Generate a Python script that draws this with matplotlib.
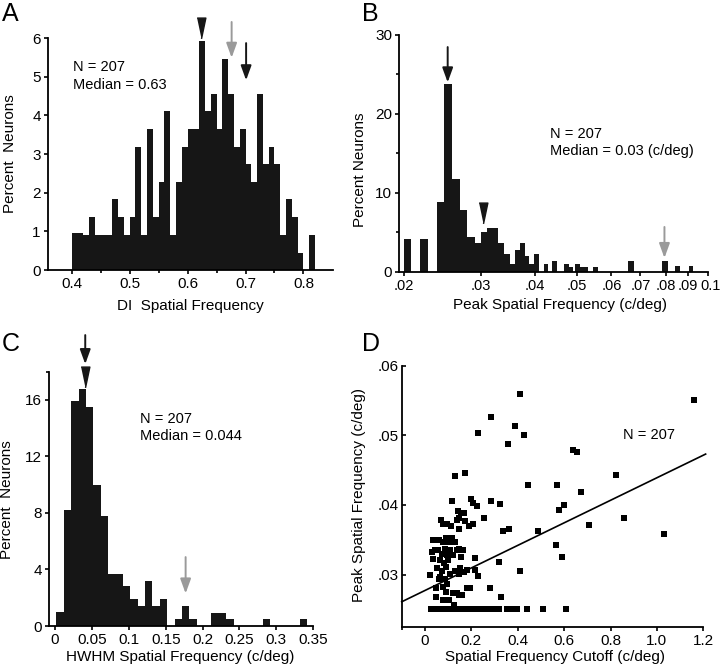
import matplotlib.pyplot as plt
import numpy as np
from matplotlib.ticker import FixedLocator, NullLocator
from matplotlib.transforms import offset_copy

plt.rcParams['font.family'] = ['Liberation Sans', 'DejaVu Sans']

# ---- panel A: DI spatial frequency, 0.01 bins from 0.40
a_bin_start = 0.40
a_bin_width = 0.01
a_pct = [0.95, 0.96, 0.9, 1.37, 0.9, 0.9, 0.9, 1.83, 1.37, 0.9, 1.37, 3.19, 0.9, 3.65,
         1.37, 2.28, 4.1, 0.9, 2.28, 3.19, 3.65, 3.65, 5.93, 4.1, 4.55, 3.65, 5.46, 4.55,
         3.19, 3.65, 2.73, 2.28, 4.55, 2.73, 3.19, 2.73, 0.9, 1.83, 1.37, 0.45, 0, 0.9]
a_median = 0.623
a_gray = 0.676
a_black = 0.701

# ---- panel B: peak spatial frequency (log axis), bar edges in c/deg
b_lo = [.02000, .02179, .02379, .02477, .02578, .02689, .02789, .02909, .03000, .03105,
        .03202, .03296, .03394, .03500, .03591, .03698, .03794, .03880, .03980, .04194,
        .04383, .04677, .04785, .04956, .05088, .05187, .05456, .06554, .07846, .08413, .09053]
b_hi = [.02074, .02269, .02477, .02578, .02689, .02789, .02909, .03000, .03105, .03202,
        .03296, .03394, .03500, .03591, .03698, .03794, .03880, .03980, .04085, .04291,
        .04500, .04785, .04886, .05088, .05187, .05296, .05601, .06751, .08082, .08621, .09261]
b_pct = [4.1, 4.1, 8.8, 23.8, 11.8, 7.8, 4.4, 3.7, 5.0, 5.5, 5.5, 3.7, 2.3, 1.0, 2.8, 3.7,
         2.0, 1.0, 2.3, 1.0, 1.4, 1.0, 0.6, 1.0, 0.6, 0.6, 0.6, 1.3, 1.3, 0.7, 0.7]
b_ticks = [.02, .03, .04, .05, .06, .07, .08, .09, .1]
b_ticklabels = ['.02', '.03', '.04', '.05', '.06', '.07', '.08', '.09', '']
b_black = 0.0252
b_median = 0.0304
b_gray = 0.0795

# ---- panel C: HWHM, 0.01 bins from 0.002
c_bin_start = 0.002
c_bin_width = 0.01
c_pct = [1.0, 8.2, 15.9, 16.8, 15.5, 10.0, 7.8, 3.7, 3.7, 2.8, 1.9, 1.4, 3.2, 1.4, 1.9, 0,
         0.5, 1.4, 0.5, 0, 0, 0.95, 0.95, 0.5, 0, 0, 0, 0, 0.5, 0, 0, 0, 0, 0.5]
c_median = 0.041
c_gray = 0.177

# ---- panel D: cutoff vs peak
d_cutoff = [1.161, 0.41, 0.285, 0.39, 0.427, 0.229, 0.358, 0.637, 0.657, 0.128, 0.174, 0.825,
            0.444, 0.569, 0.674, 0.116, 0.20, 0.207, 0.226, 0.285, 0.323, 0.599, 0.579, 0.254,
            0.144, 0.157, 0.168, 0.174, 0.145, 0.137, 0.069, 0.079, 0.096, 0.111, 0.191, 0.206,
            0.147, 0.362, 0.338, 0.489, 0.706, 0.859, 1.03, 0.565, 0.592, 0.318, 0.412, 0.326,
            0.282, 0.033, 0.115, 0.128, 0.214, 0.23, 0.216, 0.194, 0.18, 0.148, 0.137, 0.119,
            0.105, 0.079, 0.126, 0.047, 0.024, 0.033, 0.029, 0.057, 0.072, 0.086, 0.096, 0.108,
            0.065, 0.082, 0.101, 0.122, 0.137, 0.05, 0.072, 0.091, 0.108, 0.129, 0.151, 0.168,
            0.183, 0.065, 0.086, 0.096, 0.076, 0.093, 0.059, 0.043, 0.093, 0.105, 0.076, 0.062,
            0.145, 0.165, 0.154, 0.148, 0.161, 0.047,
            0.025, 0.05, 0.07, 0.09, 0.11, 0.13, 0.15, 0.17, 0.19, 0.21, 0.23, 0.25, 0.27,
            0.29, 0.31, 0.32, 0.355, 0.375, 0.395, 0.44, 0.51, 0.61]
d_peak = [.0551, .0559, .0527, .0514, .0501, .0504, .0488, .0479, .0476, .0441, .0446, .0443,
          .0428, .0428, .0418, .0405, .0408, .0403, .0398, .0406, .0402, .0400, .0393, .0381,
          .0391, .0388, .0388, .0377, .0381, .0378, .0378, .0373, .0373, .0370, .0370, .0372,
          .0365, .0365, .0362, .0362, .0371, .0381, .0358, .0343, .0325, .0318, .0305, .0267,
          .0280, .0349, .0352, .0346, .0323, .0298, .0306, .0280, .0281, .0270, .0274, .0273,
          .0263, .0264, .0256, .0281, .0300, .0322, .0332, .0335, .0330, .0337, .0328, .0335,
          .0321, .0317, .0321, .0328, .0335, .0309, .0305, .0311, .0301, .0305, .0309, .0304,
          .0306, .0297, .0294, .0287, .0282, .0275, .0294, .0335, .0352, .0346, .0346, .0349,
          .0337, .0335, .0325, .0301, .0271, .0268,
          .025, .025, .025, .025, .025, .025, .025, .025, .025, .025, .025, .025, .025,
          .025, .025, .025, .025, .025, .025, .025, .025, .025]
d_fit_intercept = 0.0277
d_fit_slope = 0.0162

BAR = '#161616'
GRAY = '#9a9a9a'
TICK_FS = 11
LABEL_FS = 11
NOTE_FS = 10.5

W, H = 720, 670


def box(x0, x1, y_top, y_bot):
    # pixel box -> figure fraction
    return [x0 / W, 1 - y_bot / H, (x1 - x0) / W, (y_bot - y_top) / H]


def style(ax):
    for s in ['top', 'right']:
        ax.spines[s].set_visible(False)
    for s in ['left', 'bottom']:
        ax.spines[s].set_linewidth(1.3)
    ax.tick_params(which='both', direction='out', width=1.2, labelsize=TICK_FS, pad=2)
    ax.tick_params(which='major', length=3.2)
    ax.tick_params(which='minor', length=2.5)


def arrow(ax, x, y0, y1, color):
    ax.annotate('', xy=(x, y1), xytext=(x, y0), xycoords=ax.get_xaxis_transform(),
                arrowprops=dict(arrowstyle='-|>,head_length=0.55,head_width=0.2',
                                color=color, lw=1.4, shrinkA=0, shrinkB=0,
                                mutation_scale=16),
                annotation_clip=False)


TRI = [(-0.42, 1), (0.42, 1), (0, -1)]


def triangle(ax, x, y):
    ax.plot([x], [y], marker=TRI, markersize=15, color=BAR, linestyle='none',
            transform=ax.get_xaxis_transform(), clip_on=False)


fig = plt.figure(figsize=(7.2, 6.7), dpi=100)

# ================= A
axA = fig.add_axes(box(48, 333, 38, 270))
style(axA)
a_left = a_bin_start + a_bin_width * np.arange(len(a_pct))
axA.bar(a_left, a_pct, width=a_bin_width, align='edge', color=BAR, linewidth=0)
axA.set_xlim(0.359, 0.851)
axA.set_ylim(0, 6)
axA.set_xticks([0.4, 0.5, 0.6, 0.7, 0.8])
axA.set_xticklabels(['0.4', '0.5', '0.6', '0.7', '0.8'])
axA.xaxis.set_minor_locator(FixedLocator([0.45, 0.55, 0.65, 0.75]))
axA.set_yticks(range(7))
axA.text(0.088, 0.905, 'N = 207\nMedian = 0.63', transform=axA.transAxes,
         fontsize=NOTE_FS, va='top', ha='left', linespacing=1.35)
axA.set_xlabel('DI  Spatial Frequency', fontsize=LABEL_FS)
axA.xaxis.set_label_coords(0.5, -0.125)
axA.set_ylabel('Percent  Neurons', fontsize=LABEL_FS)
axA.yaxis.set_label_coords(-0.11, 0.5)
triangle(axA, a_median, 1.045)
arrow(axA, a_gray, 1.069, 0.915, GRAY)
arrow(axA, a_black, 0.978, 0.818, BAR)

# ================= B
axB = fig.add_axes(box(399.3, 708.3, 35, 271.7))
style(axB)
axB.set_xscale('log')
axB.bar(b_lo, b_pct, width=np.array(b_hi) - np.array(b_lo), align='edge',
        color=BAR, linewidth=0)
axB.set_xlim(0.0195, 0.1003)
axB.set_ylim(0, 30)
axB.xaxis.set_major_locator(FixedLocator(b_ticks))
axB.set_xticklabels(b_ticklabels)
axB.xaxis.set_minor_locator(NullLocator())
axB.tick_params(axis='x', labelsize=10.5)
# last tick label nudged right so it does not run into ".09"
axB.text(b_ticks[-1], 0, '0.1', fontsize=10.5, ha='center', va='top',
         transform=offset_copy(axB.get_xaxis_transform(), fig=fig, x=3, y=-7.3,
                               units='dots'))
axB.set_yticks([0, 10, 20, 30])
axB.yaxis.set_minor_locator(FixedLocator([5, 15, 25]))
axB.text(0.488, 0.613, 'N = 207\nMedian = 0.03 (c/deg)', transform=axB.transAxes,
         fontsize=NOTE_FS, va='top', ha='left', linespacing=1.35)
axB.set_xlabel('Peak Spatial Frequency (c/deg)', fontsize=LABEL_FS)
axB.xaxis.set_label_coords(0.52, -0.112)
axB.set_ylabel('Percent Neurons', fontsize=LABEL_FS)
axB.yaxis.set_label_coords(-0.104, 0.43)
arrow(axB, b_black, 0.949, 0.80, BAR)
triangle(axB, b_median, 0.25)
arrow(axB, b_gray, 0.189, 0.058, GRAY)

# ================= C
axC = fig.add_axes(box(49.3, 313.3, 371.7, 626))
style(axC)
c_left = c_bin_start + c_bin_width * np.arange(len(c_pct))
axC.bar(c_left, c_pct, width=c_bin_width, align='edge', color=BAR, linewidth=0)
axC.set_xlim(-0.0077, 0.35)
axC.set_ylim(0, 18)
axC.set_xticks([0, 0.05, 0.1, 0.15, 0.2, 0.25, 0.3, 0.35])
axC.set_xticklabels(['0', '0.05', '0.1', '0.15', '0.2', '0.25', '0.3', '0.35'])
axC.set_yticks([0, 4, 8, 12, 16])
axC.yaxis.set_minor_locator(FixedLocator([18]))
axC.text(0.344, 0.843, 'N = 207\nMedian = 0.044', transform=axC.transAxes,
         fontsize=NOTE_FS, va='top', ha='left', linespacing=1.35)
axC.set_xlabel('HWHM Spatial Frequency (c/deg)', fontsize=LABEL_FS)
axC.xaxis.set_label_coords(0.496, -0.094)
axC.set_ylabel('Percent  Neurons', fontsize=LABEL_FS)
axC.yaxis.set_label_coords(-0.134, 0.495)
arrow(axC, c_median, 1.144, 1.03, BAR)
triangle(axC, c_median, 0.979)
arrow(axC, c_gray, 0.271, 0.128, GRAY)

# ================= D
axD = fig.add_axes(box(401.7, 703.3, 365.7, 626.7))
style(axD)
axD.scatter(d_cutoff, d_peak, marker='s', s=24, color='black', linewidths=0, zorder=3)
fit_x = np.array([-0.1, 1.21])
axD.plot(fit_x, d_fit_intercept + d_fit_slope * fit_x, color='black', lw=1.2,
         clip_on=False)
axD.set_xlim(-0.1, 1.2)
axD.set_ylim(0.0225, 0.06)
axD.set_xticks([0, 0.2, 0.4, 0.6, 0.8, 1.0, 1.2])
axD.set_xticklabels(['0', '0.2', '0.4', '0.6', '0.8', '1.0', '1.2'])
axD.xaxis.set_minor_locator(FixedLocator([-0.1]))
axD.set_yticks([0.03, 0.04, 0.05, 0.06])
axD.set_yticklabels(['.03', '.04', '.05', '.06'])
axD.tick_params(axis='y', which='both', direction='in')
axD.text(0.734, 0.762, 'N = 207', transform=axD.transAxes,
         fontsize=NOTE_FS, va='top', ha='left')
axD.set_xlabel('Spatial Frequency Cutoff (c/deg)', fontsize=LABEL_FS)
axD.xaxis.set_label_coords(0.508, -0.089)
axD.set_ylabel('Peak Spatial Frequency (c/deg)', fontsize=LABEL_FS)
axD.yaxis.set_label_coords(-0.118, 0.505)

# panel letters
for lbl, x, y in [('A', 2, 2), ('B', 362, 2), ('C', 2, 332), ('D', 362, 332)]:
    fig.text(x / W, 1 - y / H, lbl, fontsize=18, va='top', ha='left')

fig.savefig('out.png', dpi=100)
